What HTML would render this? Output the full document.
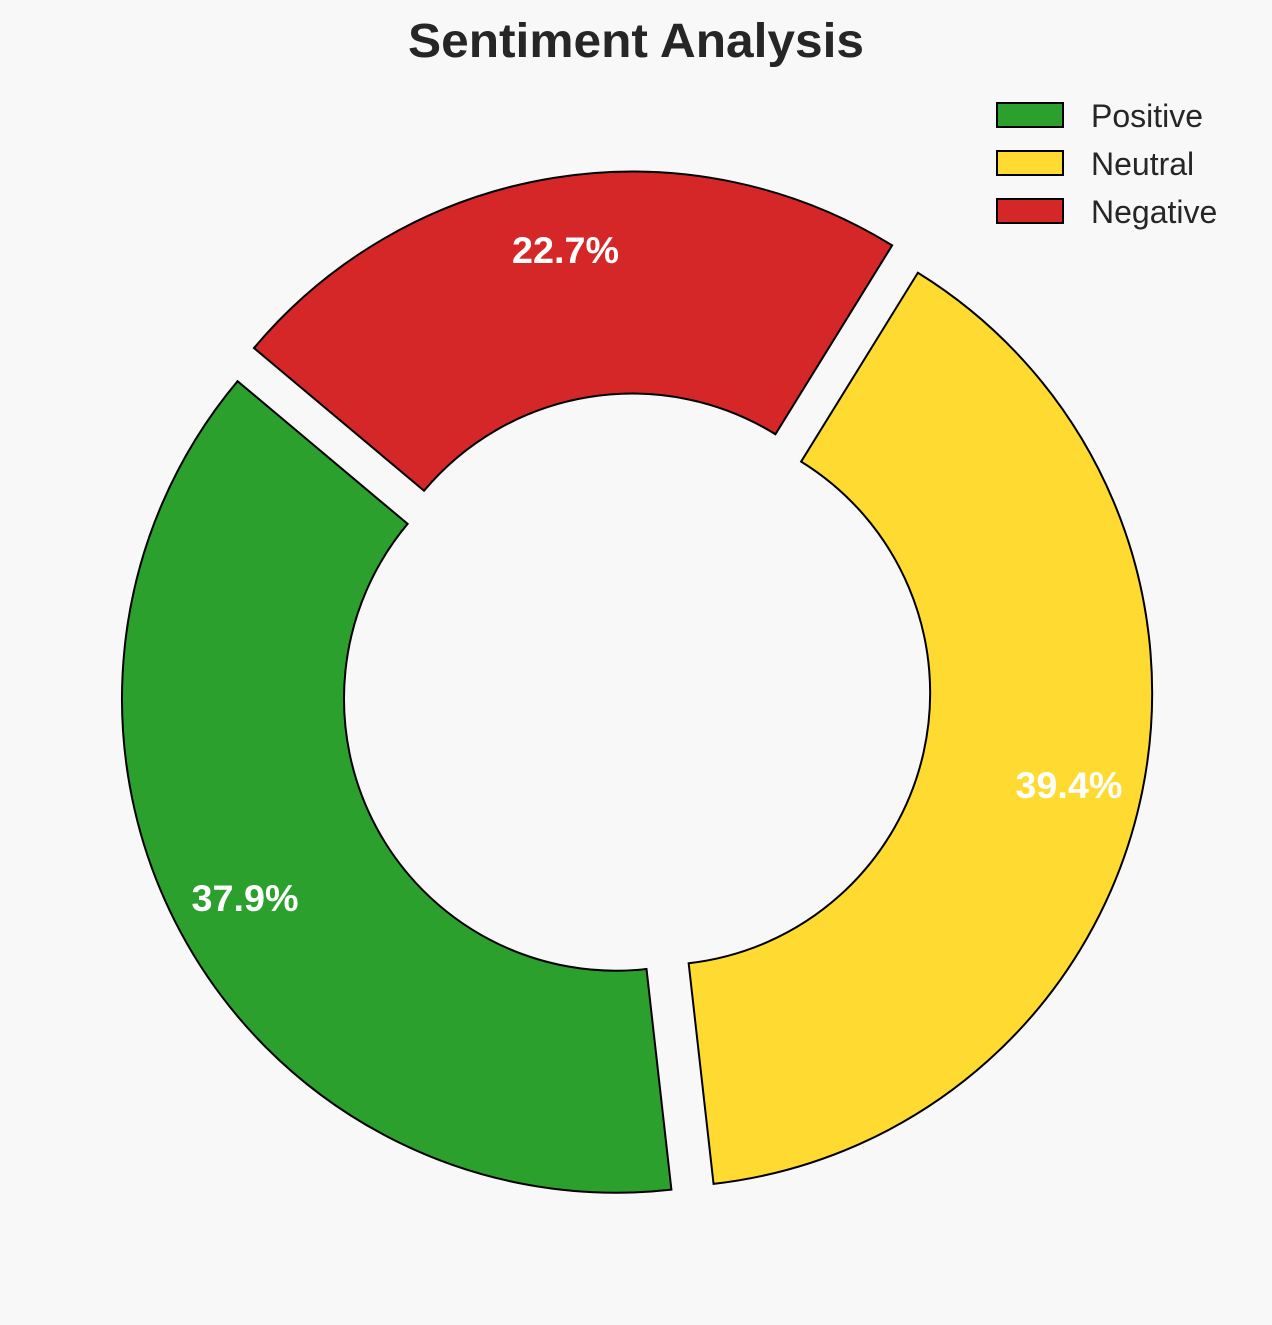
<!DOCTYPE html>
<html>
<head>
<meta charset="utf-8">
<style>
  html,body{margin:0;padding:0;background:#f8f8f8;}
  svg{display:block;}
  text{font-family:"Liberation Sans",Arial,sans-serif;}
</style>
</head>
<body>
<svg id="chart" width="1272" height="1325" viewBox="0 0 1272 1325" xmlns="http://www.w3.org/2000/svg">
  <rect x="0" y="0" width="1272" height="1325" fill="#f8f8f8"/>
  <text x="636" y="57" text-anchor="middle" font-size="48" font-weight="bold" fill="#262626" textLength="456" lengthAdjust="spacingAndGlyphs">Sentiment Analysis</text>
  <g id="wedges"></g>
  <g id="labels"></g>
  <g id="legend"></g>
</svg>
<script>
const categories = ["Positive", "Neutral", "Negative"];
const values = [37.9, 39.4, 22.7];
const colors = ["#2ca02c", "#ffda30", "#d62728"];
const startAngle = 140;

const cx = 636, cy = 688, R = 494, r = 272, explodeDist = 22.7, pctDist = 421;
const NS = "http://www.w3.org/2000/svg";
const wedgesG = document.getElementById("wedges");
const labelsG = document.getElementById("labels");
const legendG = document.getElementById("legend");
const total = values.reduce((a, b) => a + b, 0);

function pt(x0, y0, rad, deg) {
  const a = deg * Math.PI / 180;
  return [x0 + rad * Math.cos(a), y0 - rad * Math.sin(a)];
}

let ang = startAngle;
values.forEach((v, i) => {
  const sweep = v / total * 360;
  const a0 = ang, a1 = ang + sweep, mid = ang + sweep / 2;
  const [ox, oy] = pt(cx, cy, explodeDist, mid);
  const p0 = pt(ox, oy, R, a0), p1 = pt(ox, oy, R, a1);
  const q1 = pt(ox, oy, r, a1), q0 = pt(ox, oy, r, a0);
  const large = sweep > 180 ? 1 : 0;
  const d = `M${p0[0]},${p0[1]} A${R},${R} 0 ${large} 0 ${p1[0]},${p1[1]} L${q1[0]},${q1[1]} A${r},${r} 0 ${large} 1 ${q0[0]},${q0[1]} Z`;
  const path = document.createElementNS(NS, "path");
  path.setAttribute("d", d);
  path.setAttribute("fill", colors[i]);
  path.setAttribute("stroke", "#000");
  path.setAttribute("stroke-width", "2");
  
  
  wedgesG.appendChild(path);

  const [lx, ly] = pt(ox, oy, pctDist, mid);
  const t = document.createElementNS(NS, "text");
  t.setAttribute("x", lx);
  t.setAttribute("y", ly + 13);
  t.setAttribute("text-anchor", "middle");
  t.setAttribute("font-size", "37");
  t.setAttribute("font-weight", "bold");
  t.setAttribute("fill", "#ffffff");
  t.setAttribute("textLength", "107");
  t.setAttribute("lengthAdjust", "spacingAndGlyphs");
  t.textContent = v.toFixed(1) + "%";
  
  
  labelsG.appendChild(t);
  ang = a1;
});

categories.forEach((c, i) => {
  const y = 103 + i * 48;
  const rect = document.createElementNS(NS, "rect");
  rect.setAttribute("x", 997);
  rect.setAttribute("y", y);
  rect.setAttribute("width", 66);
  rect.setAttribute("height", 24);
  rect.setAttribute("fill", colors[i]);
  rect.setAttribute("stroke", "#000");
  rect.setAttribute("stroke-width", "2");
  
  
  legendG.appendChild(rect);
  const t = document.createElementNS(NS, "text");
  t.setAttribute("x", 1091);
  t.setAttribute("y", y + 24);
  t.setAttribute("font-size", "32");
  t.setAttribute("fill", "#262626");
  t.textContent = c;
  
  
  legendG.appendChild(t);
});
</script>
</body>
</html>
